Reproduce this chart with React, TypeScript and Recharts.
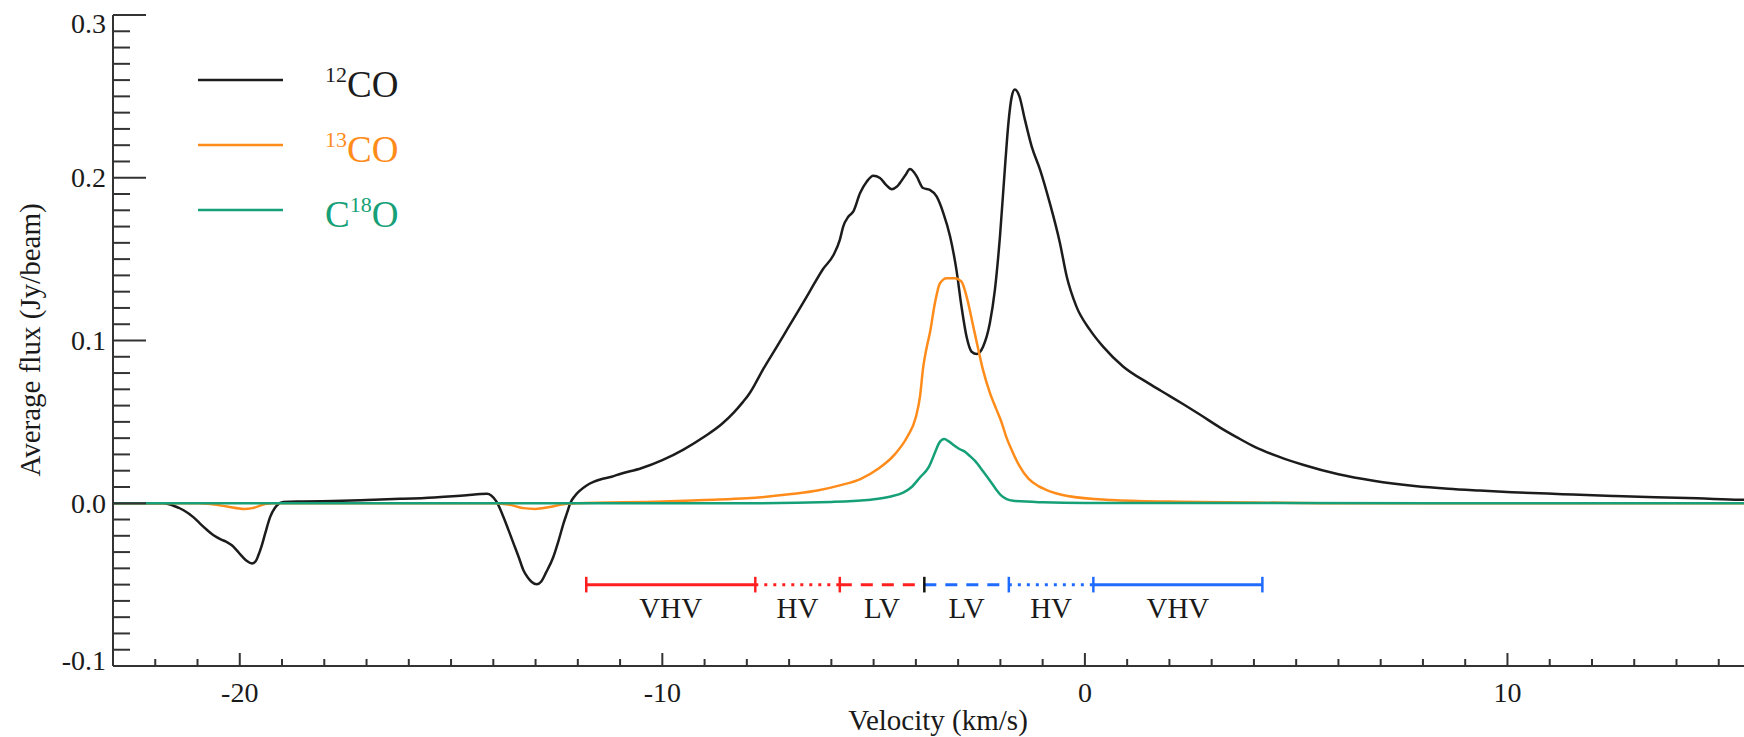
import React from 'react'
import { LineChart, Line, XAxis, YAxis, ReferenceLine, ReferenceDot } from 'recharts'

// 12CO spectrum (velocity km/s, flux Jy/beam)
const co12Vel = [
  -23, -22, -21.8, -21.6, -21.33, -21.1, -20.94, -20.78, -20.62, -20.45, -20.31, -20.18, -20.07,
  -19.95, -19.83, -19.71, -19.62, -19.56, -19.48, -19.4, -19.28, -19.12, -18.97, -18.5, -17.8, -17,
  -16.2, -15.4, -14.63, -14.3, -14.15, -14.05, -13.92, -13.76, -13.64, -13.52, -13.4, -13.29, -13.18,
  -13.09, -12.97, -12.87, -12.75, -12.58, -12.45, -12.34, -12.25, -12.18, -12.07, -11.95, -11.8,
  -11.63, -11.47, -11.2, -11, -10.5, -10, -9.5, -9, -8.6, -8.3, -8.1, -7.95, -7.8, -7.61, -7.3, -7.06,
  -6.8, -6.51, -6.2, -5.95, -5.8, -5.72, -5.6, -5.48, -5.32, -5.16, -5.01, -4.85, -4.7, -4.57, -4.45,
  -4.38, -4.25, -4.14, -4.05, -3.98, -3.83, -3.67, -3.51, -3.35, -3.19, -3.04, -2.92, -2.8, -2.68,
  -2.56, -2.41, -2.25, -2.13, -2.01, -1.89, -1.81, -1.73, -1.66, -1.55, -1.42, -1.26, -1.06, -0.83,
  -0.59, -0.43, -0.2, 0.12, 0.43, 0.91, 1.5, 2, 2.35, 2.72, 3.2, 3.6, 4.03, 4.6, 5.18, 6, 6.83, 7.8,
  8.6, 9.34, 10.1, 11.3, 12.5, 13.5, 14.5, 15.5, 16,
]
const co12Flux = [
  0, 0, 0, -0.0012, -0.0043, -0.0085, -0.0125, -0.0163, -0.0197, -0.0222, -0.0238, -0.026, -0.029,
  -0.0325, -0.0355, -0.037, -0.0355, -0.032, -0.026, -0.0187, -0.0084, -0.0013, 0.0008, 0.0011, 0.0014,
  0.002, 0.0027, 0.0036, 0.0049, 0.0057, 0.0058, 0.0048, 0.0008, -0.0084, -0.0165, -0.0248, -0.033,
  -0.041, -0.0458, -0.0484, -0.0498, -0.0482, -0.0425, -0.033, -0.0225, -0.0125, -0.0055, 0, 0.0045,
  0.0078, 0.0108, 0.0131, 0.0146, 0.0163, 0.018, 0.0215, 0.0265, 0.033, 0.041, 0.0485, 0.056, 0.062,
  0.067, 0.0735, 0.0825, 0.0958, 0.1062, 0.1175, 0.1302, 0.1438, 0.1525, 0.1618, 0.17, 0.176, 0.1793,
  0.1906, 0.1977, 0.2012, 0.1998, 0.1955, 0.193, 0.1945, 0.1967, 0.2015, 0.2053, 0.2035, 0.2008,
  0.1937, 0.1926, 0.1885, 0.1783, 0.1639, 0.1434, 0.1208, 0.1023, 0.0931, 0.0917, 0.0962, 0.1106,
  0.1311, 0.1639, 0.207, 0.2336, 0.25, 0.2542, 0.25, 0.2357, 0.2193, 0.2049, 0.1844, 0.1598, 0.1393,
  0.1208, 0.1065, 0.0962, 0.0839, 0.0738, 0.066, 0.0605, 0.0545, 0.0465, 0.0405, 0.0345, 0.0285,
  0.0235, 0.0178, 0.0138, 0.0106, 0.0089, 0.0078, 0.0068, 0.0056, 0.0045, 0.0037, 0.003, 0.0022, 0.002,
]

// 13CO spectrum
const co13Vel = [
  -23, -21, -20.7, -20.3, -19.9, -19.7, -19.4, -19.2, -14, -13.6, -13.3, -13, -12.7, -12.3, -12, -10,
  -9, -8, -7, -6.3, -5.8, -5.3, -4.9, -4.5, -4.2, -4, -3.9, -3.83, -3.75, -3.67, -3.55, -3.43, -3.27,
  -3.08, -2.92, -2.8, -2.64, -2.52, -2.41, -2.25, -2.1, -1.99, -1.85, -1.72, -1.55, -1.33, -1.1, -0.93,
  -0.41, 0.64, 2, 4, 6, 16,
]
const co13Flux = [
  0, 0, -0.0005, -0.002, -0.0035, -0.003, -0.0005, 0, 0, -0.001, -0.003, -0.0035, -0.0025, -0.0005, 0,
  0.001, 0.002, 0.003, 0.0055, 0.008, 0.011, 0.015, 0.021, 0.03, 0.041, 0.053, 0.066, 0.0829, 0.095,
  0.1044, 0.1229, 0.1352, 0.1383, 0.1383, 0.1362, 0.127, 0.1085, 0.0942, 0.0818, 0.068, 0.058, 0.051,
  0.04, 0.032, 0.023, 0.015, 0.0105, 0.0084, 0.0045, 0.002, 0.001, 0.0005, 0, 0,
]

// C18O spectrum
const c18oVel = [
  -23, -8, -6, -5.15, -4.62, -4.3, -4.1, -3.9, -3.7, -3.55, -3.45, -3.33, -3.22, -3.12, -2.98, -2.86,
  -2.72, -2.6, -2.42, -2.25, -2.1, -1.99, -1.85, -1.7, -1, 0, 16,
]
const c18oFlux = [
  0, 0, 0.0008, 0.002, 0.004, 0.0065, 0.01, 0.016, 0.022, 0.031, 0.037, 0.0395, 0.038, 0.036, 0.0335,
  0.032, 0.029, 0.026, 0.02, 0.014, 0.0085, 0.005, 0.0025, 0.0015, 0.0006, 0.0002, 0,
]

// velocity ranges marked under the spectrum
const rangeEdges = [-11.8, -7.8, -5.8, -3.8, -1.8, 0.2, 4.2]
const rangeLabels = ['VHV', 'HV', 'LV', 'LV', 'HV', 'VHV']
const rangeColors = ['#ff1f1f', '#ff1f1f', '#ff1f1f', '#1f6bff', '#1f6bff', '#1f6bff']
const rangeDashes = ['', '3 6', '12 9', '12 9', '3 6', '']
const capColors = ['#ff1f1f', '#ff1f1f', '#ff1f1f', '#111111', '#1f6bff', '#1f6bff', '#1f6bff']
const rangeLevel = -0.05
const capHalf = 0.0048
const labelLevel = -0.0708

const legendNames = [
  { pre: '', sup: '12', post: 'CO', color: '#1c1c1c' },
  { pre: '', sup: '13', post: 'CO', color: '#ff8c1a' },
  { pre: 'C', sup: '18', post: 'O', color: '#16a077' },
]

const X_DOMAIN: [number, number] = [-23, 16]
const Y_DOMAIN: [number, number] = [-0.1, 0.3]
const xTicks = Array.from({ length: 40 }, (_, i) => i - 23)
const yTicks = Array.from({ length: 41 }, (_, i) => (i - 10) / 100)

const AXIS = '#333'
const TEXT = '#1a1a1a'
const FONT = '"Liberation Serif", "Times New Roman", serif'

const co12Data = co12Vel.map((v, i) => ({ v, f: co12Flux[i] }))
const co13Data = co13Vel.map((v, i) => ({ v, f: co13Flux[i] }))
const c18oData = c18oVel.map((v, i) => ({ v, f: c18oFlux[i] }))

const isMajorX = (v: number) => Math.abs(v % 10) < 1e-6
const isMajorY = (v: number) => Math.abs(v * 10 - Math.round(v * 10)) < 1e-6

const BottomTick = (props: any) => {
  const { x, y, payload } = props
  const v = payload.value
  const major = isMajorX(v)
  return (
    <g>
      <line x1={x} x2={x} y1={y} y2={y - (major ? 13 : 7)} stroke={AXIS} strokeWidth={2} />
      {major && (
        <text x={x} y={y + 36} textAnchor="middle" fontSize={28} fill={TEXT} fontFamily={FONT}>
          {v}
        </text>
      )}
    </g>
  )
}

const TopTick = (props: any) => {
  const { x, y, payload } = props
  const major = isMajorX(payload.value)
  return <line x1={x} x2={x} y1={y} y2={y + (major ? 13 : 7)} stroke={AXIS} strokeWidth={2} />
}

const LeftTick = (props: any) => {
  const { x, y, payload } = props
  const v = payload.value
  const major = isMajorY(v)
  // end labels are nudged inside the frame, like the original
  const ly = Math.min(Math.max(y, 23.5), 660)
  return (
    <g>
      <line x1={x} x2={x + (major ? 33 : 17)} y1={y} y2={y} stroke={AXIS} strokeWidth={2} />
      {major && (
        <text x={x - 7} y={ly + 9.5} textAnchor="end" fontSize={28} fill={TEXT} fontFamily={FONT}>
          {v.toFixed(1)}
        </text>
      )}
    </g>
  )
}

const RightTick = (props: any) => {
  const { x, y, payload } = props
  const major = isMajorY(payload.value)
  return <line x1={x} x2={x - (major ? 33 : 17)} y1={y} y2={y} stroke={AXIS} strokeWidth={2} />
}

export default function App() {
  return (
    <div
      style={{
        position: 'absolute',
        left: 0,
        top: 0,
        width: 1744,
        height: 737,
        overflow: 'hidden',
        background: '#fff',
        fontFamily: FONT,
      }}
    >
      <LineChart width={1770} height={737} margin={{ top: 15, right: 9, left: 0, bottom: 0 }}>
        <XAxis
          dataKey="v"
          type="number"
          domain={X_DOMAIN}
          ticks={xTicks}
          interval={0}
          allowDataOverflow
          height={71}
          tickSize={0}
          tickMargin={0}
          tick={<BottomTick />}
          axisLine={{ stroke: AXIS, strokeWidth: 2 }}
        />
        <XAxis
          xAxisId="top"
          orientation="top"
          dataKey="v"
          type="number"
          domain={X_DOMAIN}
          ticks={xTicks}
          interval={0}
          allowDataOverflow
          height={0}
          tickSize={0}
          tickMargin={0}
          tick={<TopTick />}
          axisLine={{ stroke: AXIS, strokeWidth: 2 }}
        />
        <YAxis
          type="number"
          domain={Y_DOMAIN}
          ticks={yTicks}
          interval={0}
          allowDataOverflow
          width={113}
          tickSize={0}
          tickMargin={0}
          tick={<LeftTick />}
          axisLine={{ stroke: AXIS, strokeWidth: 2 }}
        />
        <YAxis
          yAxisId="right"
          orientation="right"
          type="number"
          domain={Y_DOMAIN}
          ticks={yTicks}
          interval={0}
          allowDataOverflow
          width={0}
          tickSize={0}
          tickMargin={0}
          tick={<RightTick />}
          axisLine={{ stroke: AXIS, strokeWidth: 2 }}
        />

        <Line data={co12Data} dataKey="f" type="monotone" stroke="#1c1c1c" strokeWidth={2.5} dot={false} isAnimationActive={false} />
        <Line data={co13Data} dataKey="f" type="monotone" stroke="#ff8c1a" strokeWidth={2.5} dot={false} isAnimationActive={false} />
        <Line data={c18oData} dataKey="f" type="monotone" stroke="#16a077" strokeWidth={2.5} dot={false} isAnimationActive={false} />

        {rangeLabels.map((_, i) => (
          <ReferenceLine
            key={`seg${i}`}
            segment={[
              { x: rangeEdges[i], y: rangeLevel },
              { x: rangeEdges[i + 1], y: rangeLevel },
            ]}
            stroke={rangeColors[i]}
            strokeWidth={3}
            strokeDasharray={rangeDashes[i] || undefined}
            ifOverflow="visible"
          />
        ))}
        {rangeEdges.map((e, i) => (
          <ReferenceLine
            key={`cap${i}`}
            segment={[
              { x: e, y: rangeLevel - capHalf },
              { x: e, y: rangeLevel + capHalf },
            ]}
            stroke={capColors[i]}
            strokeWidth={2.5}
            ifOverflow="visible"
          />
        ))}
        {rangeLabels.map((lab, i) => (
          <ReferenceDot
            key={`lab${i}`}
            x={(rangeEdges[i] + rangeEdges[i + 1]) / 2}
            y={labelLevel}
            r={0}
            ifOverflow="visible"
            shape={(p: any) => (
              <text x={p.cx} y={p.cy} textAnchor="middle" fontSize={29} fill={TEXT} fontFamily={FONT}>
                {lab}
              </text>
            )}
          />
        ))}
      </LineChart>

      <svg
        width={1744}
        height={737}
        style={{ position: 'absolute', left: 0, top: 0, pointerEvents: 'none' }}
      >
        <text x={938} y={730} textAnchor="middle" fontSize={29} fill={TEXT} fontFamily={FONT}>
          Velocity (km/s)
        </text>
        <text
          transform="translate(40,340) rotate(-90)"
          textAnchor="middle"
          fontSize={29}
          fill={TEXT}
          fontFamily={FONT}
        >
          Average flux (Jy/beam)
        </text>
        {legendNames.map((n, i) => {
          const base = 97 + i * 65
          return (
            <g key={n.sup}>
              <line x1={198} x2={283} y1={base - 17} y2={base - 17} stroke={n.color} strokeWidth={2.5} />
              <text x={325} y={base} fill={n.color} fontFamily={FONT}>
                {n.pre && <tspan fontSize={37}>{n.pre}</tspan>}
                <tspan fontSize={22} dy={-15}>{n.sup}</tspan>
                <tspan fontSize={37} dy={15}>{n.post}</tspan>
              </text>
            </g>
          )
        })}
      </svg>
    </div>
  )
}
